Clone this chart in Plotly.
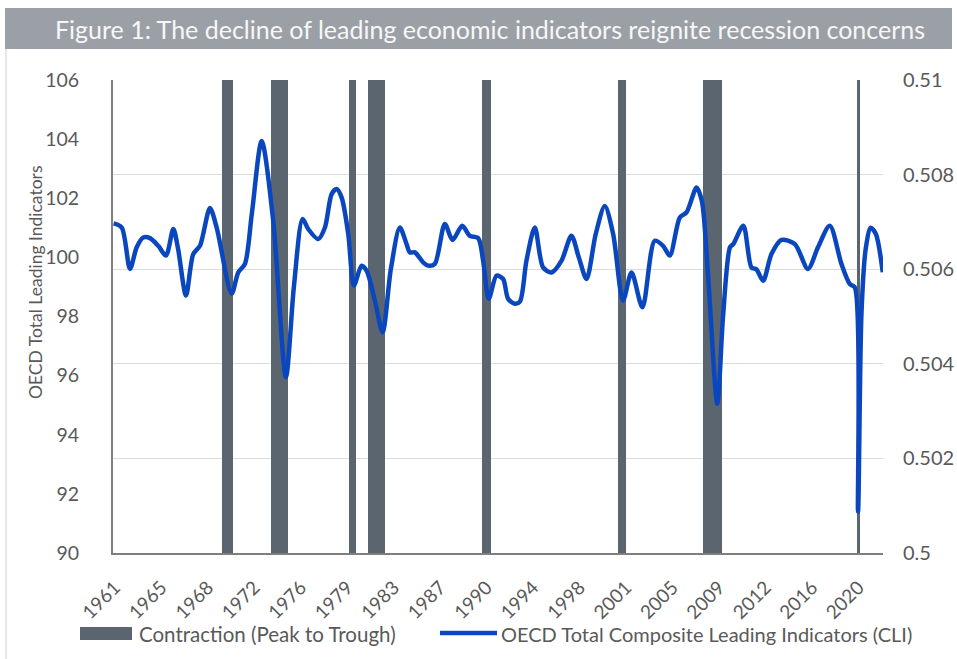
import plotly.graph_objects as go

# ---------------- data ----------------
cli_year = [1961.40, 1962.04, 1962.69, 1963.22, 1963.74, 1964.27, 1964.92, 1965.53, 1966.11, 1966.48,
            1967.11, 1967.68, 1968.21, 1968.47, 1969.00, 1969.53, 1970.71, 1971.23, 1971.76, 1972.31,
            1973.08, 1973.99, 1974.99, 1975.62, 1976.31, 1976.75, 1977.54, 1978.07, 1978.60, 1978.99,
            1979.39, 1979.91, 1980.36, 1980.96, 1981.36, 1982.01, 1982.62, 1983.27, 1983.98, 1984.51,
            1984.77, 1985.17, 1985.82, 1986.22, 1986.74, 1987.53, 1988.14, 1988.90, 1989.50, 1990.16,
            1990.55, 1991.00, 1991.61, 1992.13, 1992.52, 1993.05, 1993.45, 1993.97, 1994.63, 1995.28,
            1995.95, 1996.74, 1997.52, 1998.10, 1998.71, 1999.44, 2000.15, 2000.81, 2001.59, 2002.26,
            2003.12, 2004.09, 2004.75, 2005.28, 2006.07, 2006.60, 2007.39, 2007.81, 2008.28, 2009.03,
            2009.48, 2010.03, 2010.29, 2011.08, 2011.72, 2012.11, 2012.64, 2013.30, 2014.09, 2015.14,
            2016.18, 2016.97, 2017.90, 2018.82, 2019.48, 2019.87, 2020.13, 2020.40, 2020.74, 2021.13,
            2021.53, 2022.08]
cli_value = [101.15, 101.01, 99.61, 100.34, 100.67, 100.65, 100.39, 100.06, 100.96, 100.30,
             98.71, 100.11, 100.39, 100.80, 101.67, 101.01, 98.77, 99.49, 99.78, 101.50,
             103.94, 101.24, 95.95, 99.00, 101.30, 100.96, 100.62, 101.01, 102.14, 102.31,
             102.02, 100.79, 99.05, 99.72, 99.55, 98.54, 97.47, 99.60, 101.01, 100.45,
             100.17, 100.17, 99.83, 99.72, 99.78, 101.13, 100.59, 101.07, 100.73, 100.65,
             99.89, 98.60, 99.38, 99.27, 98.60, 98.43, 98.50, 99.89, 101.01, 99.66,
             99.49, 99.89, 100.73, 100.00, 99.27, 100.80, 101.74, 100.79, 98.54, 99.49,
             98.31, 100.56, 100.39, 100.06, 101.35, 101.52, 102.36, 101.90, 99.50, 95.05,
             98.00, 100.34, 100.45, 101.07, 99.66, 99.60, 99.21, 100.11, 100.59, 100.45,
             99.61, 100.34, 101.07, 99.78, 99.10, 98.99, 91.40, 98.10, 100.30, 101.00,
             100.80, 99.50]

# contraction periods (peak -> trough), decimal years
rec_start = [1969.92, 1973.83, 1980.00, 1981.50, 1990.50, 2001.17, 2007.92, 2020.08]
rec_end = [1970.83, 1975.17, 1980.50, 1982.83, 1991.17, 2001.83, 2009.42, 2020.25]
rec_height = 0.51

tick_labels = ["1961", "1965", "1968", "1972", "1976", "1979", "1983", "1987", "1990",
               "1994", "1998", "2001", "2005", "2009", "2012", "2016", "2020"]

title_text = "Figure 1: The decline of leading economic indicators reignite recession concerns"
y_title = "OECD Total Leading Indicators"
bar_name = "Contraction (Peak to Trough)"
line_name = "OECD Total Composite Leading Indicators (CLI)"

# ---------------- layout helpers ----------------
FW, FH = 957, 659
L, R, T, B = 113, 883, 80, 553
PW, PH = R - L, B - T


def px_x(px):
    return (px - L) / PW


def px_y(py):
    return (B - py) / PH


FONT = "Lato"
GREY_TXT = "#595959"
BAR_COLOR = "#5B6570"
LINE_COLOR = "#0A47BF"

rec_mid = [(s + e) / 2 for s, e in zip(rec_start, rec_end)]
rec_width = [e - s for s, e in zip(rec_start, rec_end)]
tick_vals = [1961.5 + i * 44 / 12 for i in range(len(tick_labels))]

fig = go.Figure()
fig.add_trace(go.Bar(x=rec_mid, y=[rec_height] * len(rec_mid), width=rec_width,
                     marker=dict(color=BAR_COLOR, line=dict(width=0)),
                     name=bar_name, yaxis="y", showlegend=False))
fig.add_trace(go.Scatter(x=cli_year, y=cli_value, mode="lines", name=line_name,
                         line=dict(color=LINE_COLOR, width=4.5, shape="spline", smoothing=0.8),
                         yaxis="y2", showlegend=False))

shapes = [
    # title banner
    dict(type="rect", xref="paper", yref="paper", x0=px_x(5), x1=px_x(952), y0=px_y(49), y1=px_y(8),
         fillcolor="#9BA0A7", line=dict(width=0), layer="below"),
    # left frame line
    dict(type="line", xref="paper", yref="paper", x0=px_x(6), x1=px_x(6), y0=px_y(49), y1=px_y(659),
         line=dict(color="#D0D0D0", width=1)),
    # legend keys
    dict(type="rect", xref="paper", yref="paper", x0=px_x(80), x1=px_x(132), y0=px_y(640), y1=px_y(627),
         fillcolor=BAR_COLOR, line=dict(width=0)),
    dict(type="line", xref="paper", yref="paper", x0=px_x(440), x1=px_x(497), y0=px_y(633), y1=px_y(633),
         line=dict(color=LINE_COLOR, width=4.5)),
]

annotations = [
    dict(text=title_text, xref="paper", yref="paper", x=px_x(490), y=px_y(29), showarrow=False,
         xanchor="center", yanchor="middle", font=dict(family=FONT, size=25, color="#F7F7F7")),
    dict(text=y_title, xref="paper", yref="paper", x=px_x(35), y=px_y(282), showarrow=False,
         textangle=-90, xanchor="center", yanchor="middle", font=dict(family=FONT, size=17.5, color=GREY_TXT)),
    dict(text=bar_name, xref="paper", yref="paper", x=px_x(137), y=px_y(634), showarrow=False,
         xanchor="left", yanchor="middle", font=dict(family=FONT, size=20.5, color=GREY_TXT)),
    dict(text=line_name, xref="paper", yref="paper", x=px_x(499), y=px_y(634), showarrow=False,
         xanchor="left", yanchor="middle", font=dict(family=FONT, size=20, color=GREY_TXT)),
]

fig.update_layout(
    width=FW, height=FH,
    margin=dict(l=L, r=FW - R, t=T, b=FH - B, pad=0),
    paper_bgcolor="white", plot_bgcolor="white",
    bargap=0, showlegend=False,
    font=dict(family=FONT, color=GREY_TXT),
    xaxis=dict(range=[1961.35, 2022.1], tickvals=tick_vals, ticktext=tick_labels, tickangle=-45,
               ticks="outside", ticklen=14, tickcolor="rgba(0,0,0,0)",
               tickfont=dict(family=FONT, size=19, color=GREY_TXT),
               showgrid=False, zeroline=False, showline=True, linecolor="#7F7F7F", linewidth=2,
               automargin=False),
    yaxis=dict(range=[0.5, 0.51], dtick=0.002, side="right", tickformat="~g",
               ticks="outside", ticklen=15, tickcolor="rgba(0,0,0,0)",
               tickfont=dict(family=FONT, size=20, color=GREY_TXT),
               showgrid=True, gridcolor="#DCDCDC", gridwidth=1, zeroline=False, showline=False,
               automargin=False),
    yaxis2=dict(range=[90, 106], dtick=2, overlaying="y", side="left",
                ticks="outside", ticklen=28, tickcolor="rgba(0,0,0,0)",
                tickfont=dict(family=FONT, size=19.5, color=GREY_TXT),
                showgrid=False, zeroline=False, showline=True, linecolor="#7F7F7F", linewidth=2,
                automargin=False),
    shapes=shapes,
    annotations=annotations,
)

fig.write_html("out.html")
